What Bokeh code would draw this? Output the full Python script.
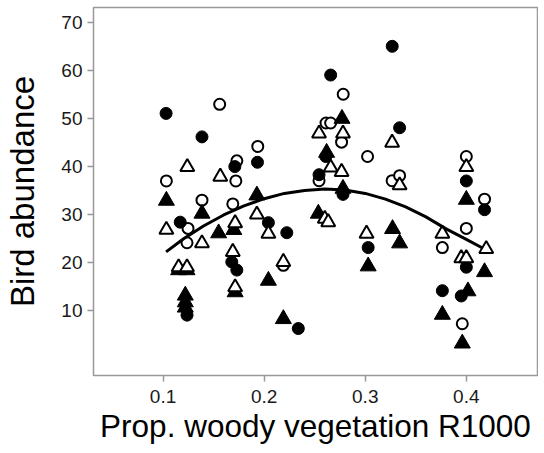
from bokeh.plotting import figure
from bokeh.embed import file_html
from bokeh.resources import INLINE
from bokeh.models import Range1d, FixedTicker

# ---- data ----
fc_x = [0.103, 0.1385, 0.171, 0.1934, 0.117, 0.2042, 0.2224, 0.168, 0.173, 0.1237, 0.2338,
        0.3267, 0.2658, 0.334, 0.261, 0.2543, 0.278, 0.400, 0.418, 0.3029, 0.400, 0.3763, 0.395]
fc_y = [51.1, 46.2, 40.0, 40.9, 28.4, 28.3, 26.2, 20.1, 18.4, 9.0, 6.2,
        65.1, 59.1, 48.1, 42.1, 38.3, 34.2, 37.0, 31.0, 23.1, 19.0, 14.1, 13.0]

oc_x = [0.156, 0.173, 0.1937, 0.1033, 0.172, 0.1385, 0.169, 0.1247, 0.1237, 0.219,
        0.2782, 0.2612, 0.2658, 0.2766, 0.3023, 0.2543, 0.3266, 0.334, 0.400, 0.418,
        0.400, 0.3763, 0.396]
oc_y = [53.0, 41.2, 44.2, 37.0, 37.0, 33.0, 32.2, 27.1, 24.1, 19.4,
        55.1, 49.1, 49.1, 45.1, 42.1, 37.05, 37.05, 38.1, 42.1, 33.2,
        27.1, 23.1, 7.2]

ft_x = [0.1033, 0.1385, 0.1928, 0.155, 0.170, 0.1154, 0.1237, 0.1713, 0.2042, 0.122,
        0.122, 0.122, 0.219, 0.277, 0.2618, 0.278, 0.400, 0.2536, 0.3029, 0.327,
        0.334, 0.418, 0.3763, 0.4016, 0.396]
ft_y = [32.9, 30.2, 34.0, 26.1, 26.8, 18.4, 18.4, 13.8, 16.2, 13.1,
        11.7, 10.6, 8.2, 50.0, 42.9, 35.4, 33.1, 30.2, 19.2, 27.0,
        24.0, 18.0, 9.1, 14.0, 3.1]

ot_x = [0.124, 0.1566, 0.1033, 0.1713, 0.1928, 0.2042, 0.1385, 0.169, 0.219, 0.1154,
        0.1237, 0.1713, 0.2543, 0.278, 0.3266, 0.2658, 0.2766, 0.334, 0.400, 0.2600,
        0.2634, 0.3013, 0.3763, 0.4197, 0.395, 0.400]
ot_y = [39.9, 37.9, 26.8, 28.2, 30.0, 26.0, 24.0, 22.2, 20.1, 19.0,
        19.0, 14.8, 46.9, 46.9, 45.0, 39.8, 38.9, 36.1, 39.9, 29.1,
        28.4, 26.0, 26.0, 22.8, 20.9, 20.9]

curve_x = [0.103, 0.12, 0.14, 0.16, 0.18, 0.20, 0.22, 0.24, 0.26, 0.28, 0.30, 0.32,
           0.34, 0.36, 0.38, 0.40, 0.416]
curve_y = [22.2, 24.9, 27.6, 29.9, 31.8, 33.3, 34.4, 35.0, 35.3, 35.1, 34.4, 33.2,
           31.6, 29.5, 27.0, 24.8, 23.0]

x_ticks = [0.1, 0.2, 0.3, 0.4]
y_ticks = [10, 20, 30, 40, 50, 60, 70]

FONT = "Liberation Sans"

p = figure(width=538, height=450, output_backend="svg", toolbar_location=None,
           x_range=Range1d(0.0312, 0.4704), y_range=Range1d(-3.6, 73.2),
           min_border_left=93, min_border_right=1, min_border_top=7, min_border_bottom=75)
p.background_fill_color = "white"
p.border_fill_color = "white"
p.outline_line_color = "#999999"
p.outline_line_width = 1.5
p.xgrid.visible = False
p.ygrid.visible = False

for ax in (p.xaxis, p.yaxis):
    ax.axis_line_color = None
    ax.major_tick_line_color = "#999999"
    ax.major_tick_line_width = 1.5
    ax.major_tick_out = 6
    ax.major_tick_in = 0
    ax.minor_tick_line_color = None
    ax.major_label_text_font = FONT
    ax.major_label_text_font_size = "19px"
    ax.major_label_text_color = "#1a1a1a"
    ax.axis_label_text_font = FONT
    ax.axis_label_text_font_style = "normal"
    ax.axis_label_text_color = "black"

p.xaxis.ticker = FixedTicker(ticks=x_ticks)
p.yaxis.ticker = FixedTicker(ticks=y_ticks)
p.xaxis.axis_label = "Prop. woody vegetation R1000"
p.yaxis.axis_label = "Bird abundance"
p.xaxis.axis_label_text_font_size = "31.5px"
p.yaxis.axis_label_text_font_size = "33px"
p.xaxis.major_label_standoff = 8
p.yaxis.major_label_standoff = 5
p.xaxis.axis_label_standoff = 2
p.yaxis.axis_label_standoff = 17

p.scatter(oc_x, oc_y, marker="circle", size=11, fill_color="white", line_color="black", line_width=2)
p.scatter(fc_x, fc_y, marker="circle", size=12, fill_color="black", line_color="black", line_width=1)
p.scatter(ft_x, ft_y, marker="triangle", size=16, fill_color="black", line_color="black", line_width=1)
p.scatter(ot_x, ot_y, marker="triangle", size=14, fill_color="white", line_color="black", line_width=2)

p.line(curve_x, curve_y, line_color="black", line_width=3)

open("out.html", "w").write(file_html(p, INLINE))
